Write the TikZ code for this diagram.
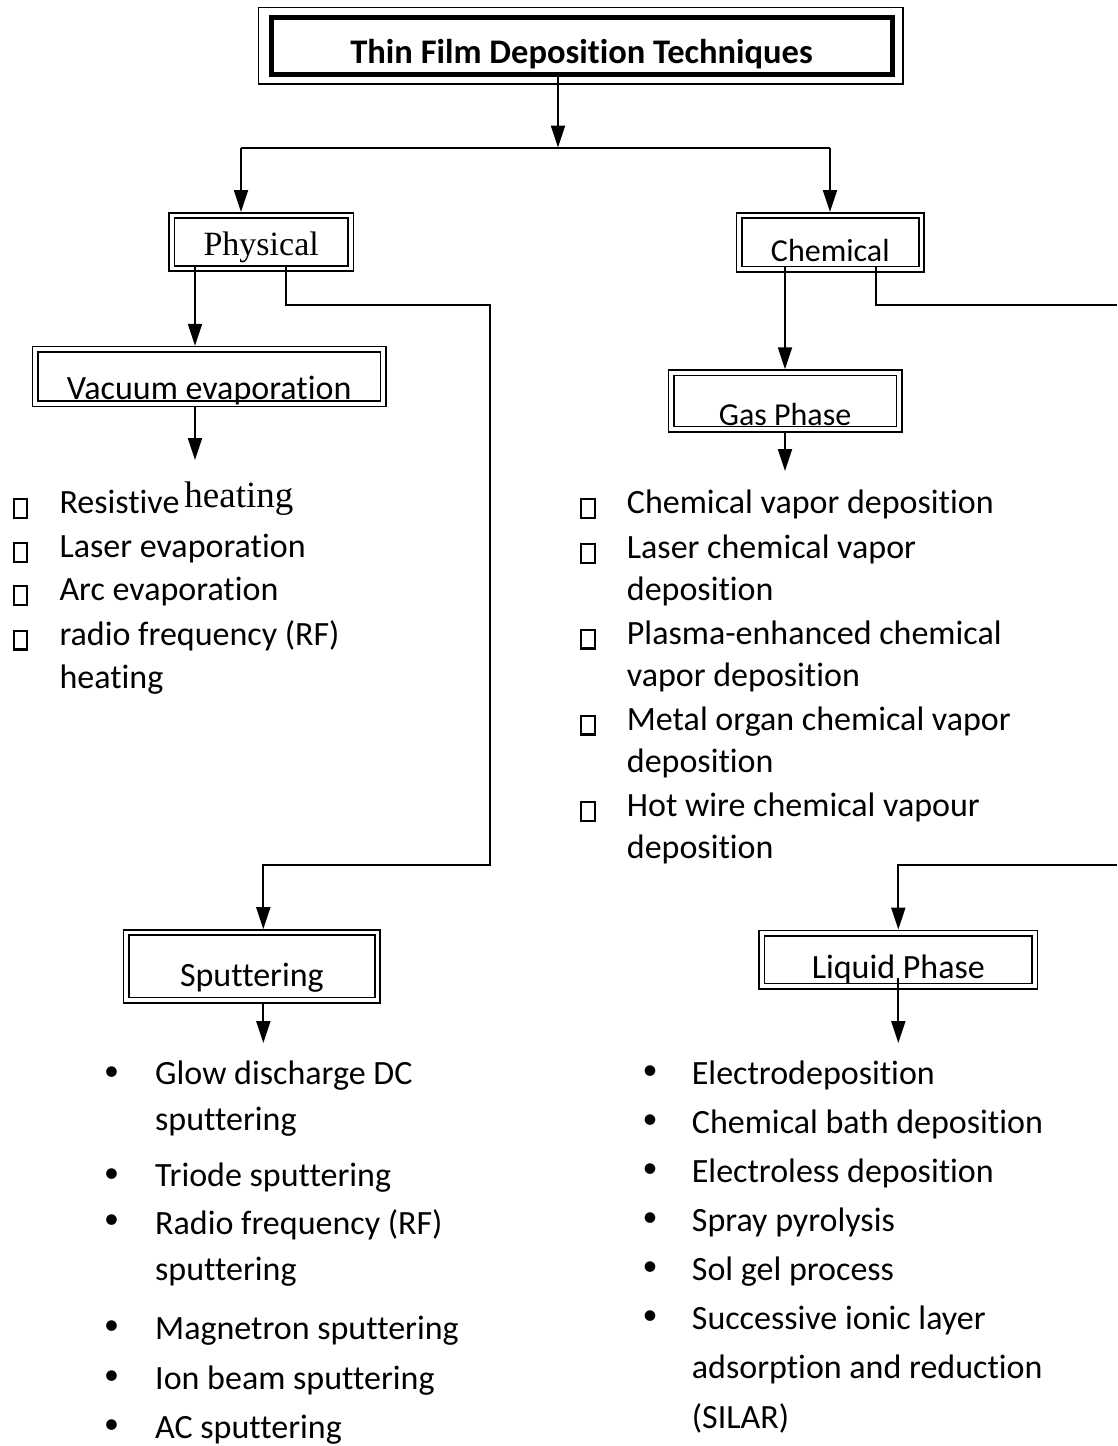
\documentclass[tikz,border=0pt]{standalone}
\usepackage{fontspec}
\setmainfont{Carlito}[RawFeature={-liga;-clig;-calt;-dlig}]
\newfontfamily\timesfont{Liberation Serif}
\usetikzlibrary{arrows.meta,positioning}

\tikzset{
  stage/.style={draw, double, line width=1.6pt, double distance=3.8pt, inner sep=0pt, outer sep=3.5pt, font=\fontsize{34}{40}\selectfont},
  headbox/.style={draw, line width=5pt, inner sep=0pt, outer sep=0pt, font=\bfseries\fontsize{34.5}{40}\selectfont},
  link/.style={line width=2pt},
  arr/.style={link, -{Triangle[length=22pt,width=14pt]}},
  item/.style={anchor=base west, align=left, inner sep=0pt},
  sqmark/.style={draw, line width=2.2pt, minimum width=13.3pt, minimum height=18.8pt, inner sep=0pt},
  dotmark/.style={inner sep=0pt, font=\fontsize{30}{30}\selectfont},
}

\begin{document}
\begin{tikzpicture}[x=1pt,y=-1pt]
  \useasboundingbox (0,0) rectangle (1117,1446);

  \node[headbox, minimum width=621pt, text height=46.3pt, text depth=10.7pt] (title) at (581.5,45.5) {Thin Film Deposition Techniques};
  \draw[line width=1.5pt] ([shift={(-12.5,-9.5)}]title.north west) rectangle ([shift={(11,10)}]title.south east);

  \node[stage, font=\timesfont\fontsize{34}{40}\selectfont, minimum width=179pt, text height=39.5pt, text depth=13.5pt] (phys) at (261.2,242) {Physical};
  \node[stage, font=\fontsize{32}{40}\selectfont, minimum width=182.5pt, text height=46.2pt, text depth=7.3pt] (chem) at (830.3,242.3) {Chemical};
  \node[stage, minimum width=347.7pt, text height=50pt, text depth=4.4pt] (vac) at (209.2,376.5) {Vacuum evaporation};
  \node[stage, font=\fontsize{32}{40}\selectfont, minimum width=228pt, text height=52.9pt, text depth=3.6pt] (gas) at (785,401) {Gas Phase};
  \node[stage, minimum width=251.2pt, text height=54.2pt, text depth=13.3pt] (sput) at (251.9,966.3) {Sputtering};
  \node[stage, minimum width=273.1pt, text height=45.3pt, text depth=8pt] (liq) at (898.3,959.7) {Liquid Phase};

  \coordinate (split) at (558,147.5);
  \coordinate (tophl) at (241,147.5);
  \coordinate (tophr) at (830,147.5);
  \draw[arr] (split |- title.south) -- (split);
  \draw[link] (tophl) -- (tophr);
  \draw[arr] (tophl) -- (tophl |- phys.north);
  \draw[arr] (tophr) -- (tophr |- chem.north);

  \coordinate (physl) at (195,266);
  \coordinate (physr) at (286,266);
  \coordinate (sputbend) at (490,305);
  \coordinate (sputdrop) at (263.3,865);
  \coordinate (vaclist) at (195,460);
  \draw[arr] (physl) -- (physl |- vac.north);
  \draw[arr] (physl |- vac.south) -- (vaclist);
  \draw[arr] (physr) |- (sputbend) |- (sputdrop) -- (sputdrop |- sput.north);

  \coordinate (cheml) at (785,266);
  \coordinate (chemr) at (876,266);
  \coordinate (edgetop) at (1117,305);
  \coordinate (edgebot) at (1117,865);
  \coordinate (liqdrop) at (898.3,865);
  \coordinate (gaslist) at (785,471);
  \draw[arr] (cheml) -- (cheml |- gas.north);
  \draw[arr] (gaslist |- gas.south) -- (gaslist);
  \draw[link] (chemr) |- (edgetop);
  \draw[arr] (edgebot) -- (liqdrop) -- (liqdrop |- liq.north);

  \coordinate (sputlist) at (263.3,1043);
  \coordinate (liqlist) at (898.3,1043);
  \draw[arr] (sputlist |- sput.south) -- (sputlist);
  \draw[arr] (liqlist |- liq.base) -- (liqlist);

  % items with two or more lines sit on the baseline of their last line
  \begin{scope}[every node/.append style={font=\fontsize{34}{43.5}\selectfont}]
    \node[sqmark] (vm1) at (20.5,508.3) {};
    \node[item] (v1) at (59.3,513.3) {\spaceskip=5pt Resistive {\timesfont\fontsize{37}{40}\selectfont\raisebox{5.5pt}{heating}}};
    \node[sqmark] (vm2) at (20.5,552.3) {};
    \node[item] (v2) at (59.3,557.3) {Laser evaporation};
    \node[sqmark] (vm3) at (20.5,595.7) {};
    \node[item] (v3) at (59.3,600.7) {Arc evaporation};
    \node[sqmark] (vm4) at (20.5,640) {};
    \node[item] (v4) at (59.3,688.5) {radio frequency (RF)\\heating};
  \end{scope}

  \begin{scope}[every node/.append style={font=\fontsize{34}{42}\selectfont}]
    \node[sqmark] (gm1) at (588,508.3) {};
    \node[item] (g1) at (626.7,513.3) {Chemical vapor deposition};
    \node[sqmark] (gm2) at (588,553.3) {};
    \node[item] (g2) at (626.7,600.3) {Laser chemical vapor\\deposition};
    \node[sqmark] (gm3) at (588,639) {};
    \node[item] (g3) at (626.7,686) {Plasma-enhanced chemical\\vapor deposition};
    \node[sqmark] (gm4) at (588,725) {};
    \node[item] (g4) at (626.7,772) {Metal organ chemical vapor\\deposition};
    \node[sqmark] (gm5) at (588,811.7) {};
    \node[item] (g5) at (626.7,858.7) {Hot wire chemical vapour\\deposition};
  \end{scope}

  \begin{scope}[every node/.append style={font=\fontsize{34}{46.5}\selectfont}]
    \node[dotmark] (sm1) at (111.5,1073.7) {•};
    \node[item] (s1) at (155,1130.7) {Glow discharge DC\\sputtering};
    \node[dotmark] (sm2) at (111.5,1175.4) {•};
    \node[item] (s2) at (155,1186.7) {Triode sputtering};
    \node[dotmark] (sm3) at (111.5,1222) {•};
    \node[item] (s3) at (155,1280.7) {Radio frequency (RF)\\sputtering};
    \node[dotmark] (sm4) at (111.5,1328) {•};
    \node[item] (s4) at (155,1339.3) {Magnetron sputtering};
    \node[dotmark] (sm5) at (111.5,1378) {•};
    \node[item] (s5) at (155,1389.3) {Ion beam sputtering};
    \node[dotmark] (sm6) at (111.5,1427) {•};
    \node[item] (s6) at (155,1438.3) {AC sputtering};
  \end{scope}

  \begin{scope}[every node/.append style={font=\fontsize{34}{49.5}\selectfont}]
    \node[dotmark] (lm1) at (650,1072.5) {•};
    \node[item] (l1) at (691.7,1084.3) {Electrodeposition};
    \node[dotmark] (lm2) at (650,1121.5) {•};
    \node[item] (l2) at (691.7,1133.3) {Chemical bath deposition};
    \node[dotmark] (lm3) at (650,1170.9) {•};
    \node[item] (l3) at (691.7,1182.7) {Electroless deposition};
    \node[dotmark] (lm4) at (650,1219.9) {•};
    \node[item] (l4) at (691.7,1231.7) {Spray pyrolysis};
    \node[dotmark] (lm5) at (650,1268.9) {•};
    \node[item] (l5) at (691.7,1280.7) {Sol gel process};
    \node[dotmark] (lm6) at (650,1317.5) {•};
    \node[item] (l6) at (691.7,1428.3) {Successive ionic layer\\adsorption and reduction\\(SILAR)};
  \end{scope}
\end{tikzpicture}
\end{document}
